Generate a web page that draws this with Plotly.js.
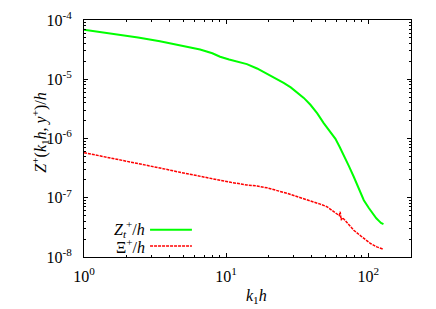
<!DOCTYPE html>
<html>
<head>
<meta charset="utf-8">
<script src="https://cdn.plot.ly/plotly-3.0.1.min.js"></script>
<style>html,body{margin:0;padding:0;background:#fff;}#chart{width:436px;height:309px;}</style>
</head>
<body>
<div id="chart"></div>
<script>
// Z_t^+/h (green)
const kZ = [1, 1.6, 2.4, 3.42, 4.8, 6.56, 8.0, 9.07, 10.5, 12.6, 14.0, 16.5, 19.4, 22.3, 25.4, 28.5, 31.5, 35.2, 39.2, 43.8, 48.6, 53.5, 58.8, 63.0, 67.3, 73.0, 79.1, 86.0, 93.1, 101.0, 109.6, 114.0, 118.9, 123.0, 128];
const zVals = [6.83e-5, 5.9e-5, 5.05e-5, 4.38e-5, 3.75e-5, 3.17e-5, 2.75e-5, 2.4e-5, 2.15e-5, 1.93e-5, 1.8e-5, 1.52e-5, 1.24e-5, 1.03e-5, 8.65e-6, 7.3e-6, 6.09e-6, 4.85e-6, 3.71e-6, 2.65e-6, 1.82e-6, 1.32e-6, 9.85e-7, 7.2e-7, 5.27e-7, 3.45e-7, 2.26e-7, 1.42e-7, 9.1e-8, 6.7e-8, 5.08e-8, 4.5e-8, 4.07e-8, 3.75e-8, 3.58e-8];
// Xi^+/h (red)
const kXi = [1, 1.25, 1.6, 2.1, 2.76, 3.6, 4.73, 6.2, 8.13, 10.8, 14.0, 16.5, 19.4, 22.8, 26.8, 33.0, 41.3, 46.0, 51.4, 56.5, 60.5, 62.5, 63.5, 64.5, 66.0, 72.0, 79.1, 90.0, 103.8, 115.0, 128];
const xiVals = [5.77e-7, 5.2e-7, 4.63e-7, 4.1e-7, 3.57e-7, 3.1e-7, 2.69e-7, 2.35e-7, 2.05e-7, 1.82e-7, 1.64e-7, 1.58e-7, 1.47e-7, 1.33e-7, 1.19e-7, 1.01e-7, 8.55e-8, 7.8e-8, 7.03e-8, 6.0e-8, 5.2e-8, 5.0e-8, 5.8e-8, 4.2e-8, 4.6e-8, 3.7e-8, 2.83e-8, 2.2e-8, 1.69e-8, 1.48e-8, 1.35e-8];

const xTickVals = [1, 10, 100];
const xTickText = ['10<sup>0</sup>', '10<sup>1</sup>', '10<sup>2</sup>'];
const yTickVals = [1e-8, 1e-7, 1e-6, 1e-5, 1e-4];
const yTickText = ['10<sup>-8</sup>', '10<sup>-7</sup>', '10<sup>-6</sup>', '10<sup>-5</sup>', '10<sup>-4</sup>'];

const xMinor = [];
for (let d = 1; d <= 100; d *= 10) for (let m = 2; m <= 9; m++) xMinor.push(m * d);
const yMinor = [];
for (let e = -8; e < -4; e++) for (let m = 2; m <= 9; m++) yMinor.push(m * Math.pow(10, e));

const serif = 'Liberation Serif';

const traces = [
  {x: kZ, y: zVals, type: 'scatter', mode: 'lines', line: {color: '#00ff00', width: 2}, showlegend: false},
  {x: kXi, y: xiVals, type: 'scatter', mode: 'lines', line: {color: '#ff0000', width: 1.5, dash: '3px,1px'}, showlegend: false}
];

const axisCommon = {
  type: 'log', showgrid: false, zeroline: false, showline: true, linecolor: '#000', linewidth: 1,
  mirror: 'allticks', ticks: 'inside', ticklen: 4, tickwidth: 1, tickcolor: '#000',
  tickmode: 'array', tickfont: {family: serif, size: 16, color: '#000'}
};

const layout = {
  width: 436, height: 309,
  margin: {l: 84, r: 25, t: 20, b: 52},
  paper_bgcolor: '#fff', plot_bgcolor: '#fff',
  showlegend: false,
  xaxis: Object.assign({}, axisCommon, {
    range: [0, Math.log10(200)], tickvals: xTickVals, ticktext: xTickText, ticklabelstandoff: 5,
    minor: {tickmode: 'array', tickvals: xMinor, ticks: 'inside', ticklen: 2, tickcolor: '#000', showgrid: false}
  }),
  yaxis: Object.assign({}, axisCommon, {
    range: [-8, -4], tickvals: yTickVals, ticktext: yTickText, ticklabelstandoff: 8,
    minor: {tickmode: 'array', tickvals: yMinor, ticks: 'inside', ticklen: 2, tickcolor: '#000', showgrid: false}
  }),
  annotations: [
    {text: '<i>Z</i><sup>+</sup>(<i>k</i><sub>1</sub><i>h</i>, <i>y</i><sup>+</sup>)/<i>h</i>', xref: 'paper', yref: 'paper',
     x: -0.135, y: 0.524, xanchor: 'center', yanchor: 'middle', textangle: -90, showarrow: false,
     font: {family: serif, size: 16, color: '#000'}},
    {text: '<i>k</i><sub>1</sub><i>h</i>', xref: 'paper', yref: 'paper', x: 0.526, y: -0.165,
     xanchor: 'center', yanchor: 'middle', showarrow: false, font: {family: serif, size: 16, color: '#000'}},
    {text: '<i>Z</i><sub><i>t</i></sub><sup>+</sup>/<i>h</i>', xref: 'paper', yref: 'paper', x: 0.193, y: 0.118,
     xanchor: 'right', yanchor: 'middle', showarrow: false, font: {family: serif, size: 16, color: '#000'}},
    {text: 'Ξ<sup>+</sup>/<i>h</i>', xref: 'paper', yref: 'paper', x: 0.193, y: 0.046,
     xanchor: 'right', yanchor: 'middle', showarrow: false, font: {family: serif, size: 16, color: '#000'}}
  ],
  shapes: [
    {type: 'line', xref: 'paper', yref: 'paper', x0: 0.202, x1: 0.330, y0: 0.115, y1: 0.115, line: {color: '#00ff00', width: 2}},
    {type: 'line', xref: 'paper', yref: 'paper', x0: 0.202, x1: 0.330, y0: 0.0465, y1: 0.0465, line: {color: '#ff0000', width: 1.5, dash: '3px,1px'}}
  ]
};

Plotly.newPlot('chart', traces, layout, {staticPlot: true, displayModeBar: false});
</script>
</body>
</html>
